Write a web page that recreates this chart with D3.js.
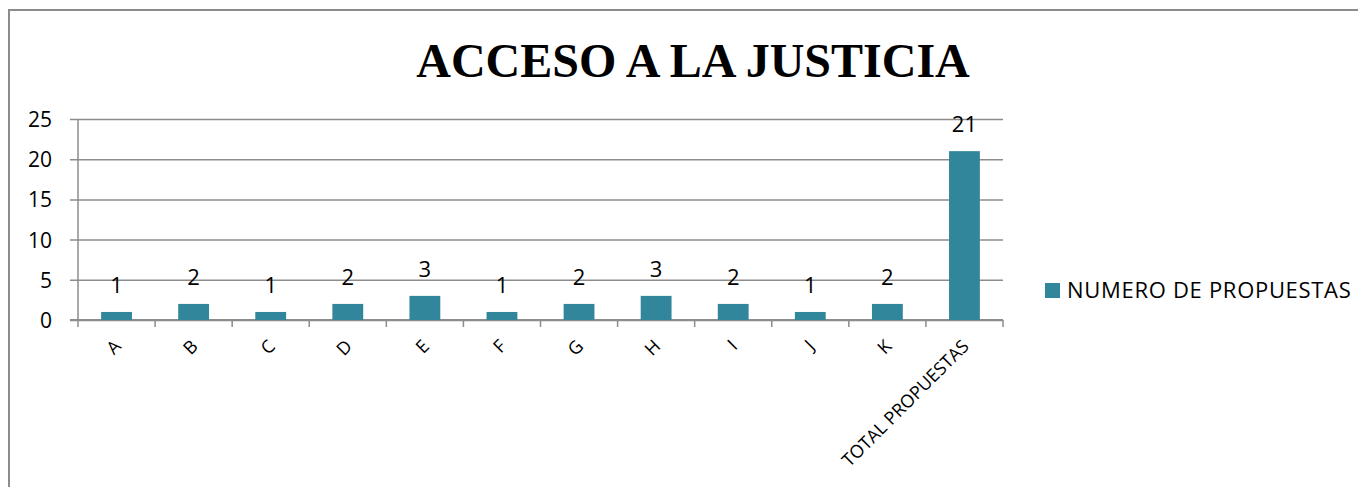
<!DOCTYPE html>
<html>
<head>
<meta charset="utf-8">
<script src="https://cdn.jsdelivr.net/npm/d3@7/dist/d3.min.js"></script>
<style>
  html, body { margin: 0; padding: 0; background: #fff; }
  svg { display: block; }
  text { font-family: "Open Sans", "Liberation Sans", sans-serif; fill: #000; }
</style>
</head>
<body>
<svg id="chart" width="1358" height="487"></svg>
<script>
// Proposals per area, plus the overall total
const categories = ["A", "B", "C", "D", "E", "F", "G", "H", "I", "J", "K", "TOTAL PROPUESTAS"];
const propuestas = [1, 2, 1, 2, 3, 1, 2, 3, 2, 1, 2, 21];
const yTicks = [0, 5, 10, 15, 20, 25];
const seriesName = "NUMERO DE PROPUESTAS";
const title = "ACCESO A LA JUSTICIA";

const svg = d3.select("#chart");
const barColor = "#31869b";
const gridColor = "#8c8c8c";

// outer chart frame (runs off the right and bottom edges)
svg.append("rect")
  .attr("x", 9).attr("y", 10)
  .attr("width", 1400).attr("height", 600)
  .attr("fill", "none").attr("stroke", gridColor).attr("stroke-width", 2);

const plot = { left: 78, right: 1003, top: 119, bottom: 320 };

const x = d3.scaleBand()
  .domain(categories)
  .range([plot.left, plot.right])
  .paddingInner(0).paddingOuter(0);

const y = d3.scaleLinear()
  .domain([0, 25])
  .range([plot.bottom, plot.top]);

// title
svg.append("text")
  .attr("x", 693).attr("y", 77)
  .attr("text-anchor", "middle")
  .style("font-family", "'Liberation Serif', 'Times New Roman', serif")
  .style("font-weight", "bold")
  .style("font-size", "48px")
  .text(title);

// horizontal gridlines + y tick labels
const yAxis = d3.axisLeft(y).tickValues(yTicks).tickSize(plot.right - plot.left + 8);
const gy = svg.append("g")
  .attr("transform", `translate(${plot.right},0)`)
  .call(yAxis);
gy.select(".domain").remove();
gy.selectAll(".tick line").attr("stroke", gridColor).attr("stroke-width", 1.5);
gy.selectAll(".tick text")
  .attr("x", -(plot.right - 52))
  .attr("dy", "0.36em")
  .style("font-size", "21px")
  .style("font-family", "'Open Sans', sans-serif");

// y axis line
svg.append("line")
  .attr("x1", plot.left).attr("x2", plot.left)
  .attr("y1", plot.top).attr("y2", plot.bottom)
  .attr("stroke", gridColor).attr("stroke-width", 1.5);

// x axis baseline and category boundary ticks
svg.append("line")
  .attr("x1", plot.left - 8).attr("x2", plot.right)
  .attr("y1", plot.bottom).attr("y2", plot.bottom)
  .attr("stroke", gridColor).attr("stroke-width", 2);
const boundaries = categories.map(c => x(c)).concat([x(categories[categories.length - 1]) + x.bandwidth()]);
svg.append("g").selectAll("line")
  .data(boundaries)
  .join("line")
  .attr("x1", d => d).attr("x2", d => d)
  .attr("y1", plot.bottom).attr("y2", plot.bottom + 7)
  .attr("stroke", gridColor).attr("stroke-width", 1.5);

// bars
const barW = x.bandwidth() * 0.4;
svg.append("g").selectAll("rect")
  .data(categories)
  .join("rect")
  .attr("x", (d) => x(d) + (x.bandwidth() - barW) / 2)
  .attr("width", barW)
  .attr("y", (d, i) => y(propuestas[i]))
  .attr("height", (d, i) => y(0) - y(propuestas[i]))
  .attr("fill", barColor);

// value labels
svg.append("g").selectAll("text")
  .data(categories)
  .join("text")
  .attr("x", d => x(d) + x.bandwidth() / 2)
  .attr("y", (d, i) => y(propuestas[i]) - 19)
  .attr("text-anchor", "middle")
  .style("font-size", "22px")
  .text((d, i) => propuestas[i]);

// rotated category labels
svg.append("g").selectAll("text")
  .data(categories)
  .join("text")
  .attr("transform", d => `translate(${x(d) + x.bandwidth() / 2 + 1},${plot.bottom + 23}) rotate(-45)`)
  .attr("text-anchor", "end")
  .attr("dy", "0.35em")
  .style("font-size", "18px")
  .text(d => d);

// legend
svg.append("rect")
  .attr("x", 1045).attr("y", 283)
  .attr("width", 15).attr("height", 15)
  .attr("fill", barColor);
svg.append("text")
  .attr("x", 1067).attr("y", 298)
  .style("font-size", "22px")
  .style("letter-spacing", "0.7px")
  .text(seriesName);
</script>
</body>
</html>
